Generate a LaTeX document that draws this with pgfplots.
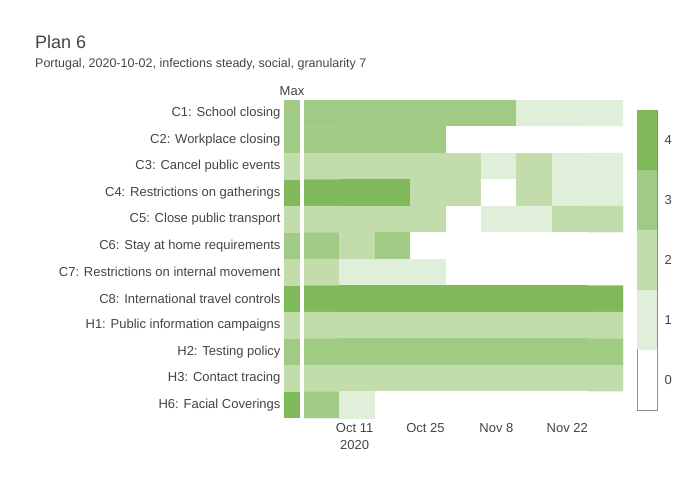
\documentclass[border=0pt]{standalone}
\usepackage{pgfplots}
\pgfplotsset{compat=1.18}
\usepackage{pgfplotstable}
\usepackage{fontspec}
\setmainfont{Liberation Sans}
\definecolor{txt}{HTML}{444444}
\definecolor{ca}{HTML}{E0EFD9}
\definecolor{cb}{HTML}{C2DCAC}
\definecolor{cc}{HTML}{A1CB85}
\definecolor{cd}{HTML}{7FB95A}
\pgfplotstableread{
x y c
-6.5 0 3
0.5 0 3
7.5 0 3
14.5 0 3
21.5 0 3
28.5 0 3
35.5 0 1
42.5 0 1
49.5 0 1
-6.5 1 3
0.5 1 3
7.5 1 3
14.5 1 3
21.5 1 0
28.5 1 0
35.5 1 0
42.5 1 0
49.5 1 0
-6.5 2 2
0.5 2 2
7.5 2 2
14.5 2 2
21.5 2 2
28.5 2 1
35.5 2 2
42.5 2 1
49.5 2 1
-6.5 3 4
0.5 3 4
7.5 3 4
14.5 3 2
21.5 3 2
28.5 3 0
35.5 3 2
42.5 3 1
49.5 3 1
-6.5 4 2
0.5 4 2
7.5 4 2
14.5 4 2
21.5 4 0
28.5 4 1
35.5 4 1
42.5 4 2
49.5 4 2
-6.5 5 3
0.5 5 2
7.5 5 3
14.5 5 0
21.5 5 0
28.5 5 0
35.5 5 0
42.5 5 0
49.5 5 0
-6.5 6 2
0.5 6 1
7.5 6 1
14.5 6 1
21.5 6 0
28.5 6 0
35.5 6 0
42.5 6 0
49.5 6 0
-6.5 7 4
0.5 7 4
7.5 7 4
14.5 7 4
21.5 7 4
28.5 7 4
35.5 7 4
42.5 7 4
49.5 7 4
-6.5 8 2
0.5 8 2
7.5 8 2
14.5 8 2
21.5 8 2
28.5 8 2
35.5 8 2
42.5 8 2
49.5 8 2
-6.5 9 3
0.5 9 3
7.5 9 3
14.5 9 3
21.5 9 3
28.5 9 3
35.5 9 3
42.5 9 3
49.5 9 3
-6.5 10 2
0.5 10 2
7.5 10 2
14.5 10 2
21.5 10 2
28.5 10 2
35.5 10 2
42.5 10 2
49.5 10 2
-6.5 11 3
0.5 11 1
7.5 11 0
14.5 11 0
21.5 11 0
28.5 11 0
35.5 11 0
42.5 11 0
49.5 11 0
}\maindata
\pgfplotsset{
  hmcolors/.style={colormap={hm}{color=(white) color=(ca) color=(cb) color=(cc) color=(cd)}},
}
\begin{document}
\begin{tikzpicture}
\useasboundingbox (0pt,0pt) rectangle (700pt,-500pt);
\node[anchor=base west,text=txt,font=\fontsize{18}{20}\selectfont,inner sep=0pt] at (35pt,-49pt) {Plan 6};
\node[anchor=base west,text=txt,font=\fontsize{12.5}{14}\selectfont,inner sep=0pt] at (35pt,-68pt) {Portugal, 2020-10-02, infections steady, social, granularity 7};
% main heatmap
\begin{axis}[at={(304pt,-418pt)},anchor=south west,scale only axis,width=319pt,height=318pt,
  xmin=-10,xmax=53,ymin=-0.5,ymax=11.5,y dir=reverse,
  axis line style={draw=none},ytick=\empty,
  xtick={0,14,28,42},xticklabels={Oct 11,Oct 25,Nov 8,Nov 22},
  xticklabel style={text=txt,font=\fontsize{13}{15}\selectfont,align=center,yshift=-2pt},
  extra x ticks={0},extra x tick labels={\phantom{Oct 11}\\[2pt]2020},
  major tick length=0pt,
  /pgf/number format/assume math mode=true,
  hmcolors, colormap access=direct]
\addplot[matrix plot*,mesh/cols=9,point meta=explicit,draw=none] table[x=x,y=y,meta=c]{\maindata};
\end{axis}
% max column
\begin{axis}[at={(284pt,-418pt)},anchor=south west,scale only axis,width=16pt,height=318pt,
  xmin=0,xmax=1,ymin=-0.5,ymax=11.5,y dir=reverse,
  axis line style={draw=none},xtick=\empty,
  ytick={0,...,11},
  yticklabels={C1: School closing,C2: Workplace closing,C3: Cancel public events,C4: Restrictions on gatherings,C5: Close public transport,C6: Stay at home requirements,C7: Restrictions on internal movement,C8: International travel controls,H1: Public information campaigns,H2: Testing policy,H3: Contact tracing,H6: Facial Coverings},
  yticklabel style={text=txt,font=\fontsize{13}{15}\selectfont},
  major tick length=0pt,
  title={Max},title style={text=txt,font=\fontsize{13}{15}\selectfont,yshift=-5pt}]
\addplot[fill=cc,draw=none] coordinates {(0,-0.5)(1,-0.5)(1,1.5)(0,1.5)} --cycle;
\addplot[fill=cb,draw=none] coordinates {(0,1.5)(1,1.5)(1,2.5)(0,2.5)} --cycle;
\addplot[fill=cd,draw=none] coordinates {(0,2.5)(1,2.5)(1,3.5)(0,3.5)} --cycle;
\addplot[fill=cb,draw=none] coordinates {(0,3.5)(1,3.5)(1,4.5)(0,4.5)} --cycle;
\addplot[fill=cc,draw=none] coordinates {(0,4.5)(1,4.5)(1,5.5)(0,5.5)} --cycle;
\addplot[fill=cb,draw=none] coordinates {(0,5.5)(1,5.5)(1,6.5)(0,6.5)} --cycle;
\addplot[fill=cd,draw=none] coordinates {(0,6.5)(1,6.5)(1,7.5)(0,7.5)} --cycle;
\addplot[fill=cb,draw=none] coordinates {(0,7.5)(1,7.5)(1,8.5)(0,8.5)} --cycle;
\addplot[fill=cc,draw=none] coordinates {(0,8.5)(1,8.5)(1,9.5)(0,9.5)} --cycle;
\addplot[fill=cb,draw=none] coordinates {(0,9.5)(1,9.5)(1,10.5)(0,10.5)} --cycle;
\addplot[fill=cd,draw=none] coordinates {(0,10.5)(1,10.5)(1,11.5)(0,11.5)} --cycle;
\end{axis}
% colorbar
\begin{axis}[at={(637pt,-410pt)},anchor=south west,scale only axis,width=20pt,height=300pt,
  xmin=0,xmax=1,ymin=-0.5,ymax=4.5,
  axis line style={draw=gray!90},xtick=\empty,
  ytick={0,...,4},yticklabel pos=right,
  yticklabel style={text=txt,font=\fontsize{13}{15}\selectfont,xshift=4pt},
  major tick length=0pt,
  /pgf/number format/assume math mode=true]
\addplot[fill=ca,draw=none] coordinates {(0,0.5)(1,0.5)(1,1.5)(0,1.5)} --cycle;
\addplot[fill=cb,draw=none] coordinates {(0,1.5)(1,1.5)(1,2.5)(0,2.5)} --cycle;
\addplot[fill=cc,draw=none] coordinates {(0,2.5)(1,2.5)(1,3.5)(0,3.5)} --cycle;
\addplot[fill=cd,draw=none] coordinates {(0,3.5)(1,3.5)(1,4.5)(0,4.5)} --cycle;
\end{axis}
\end{tikzpicture}
\end{document}
